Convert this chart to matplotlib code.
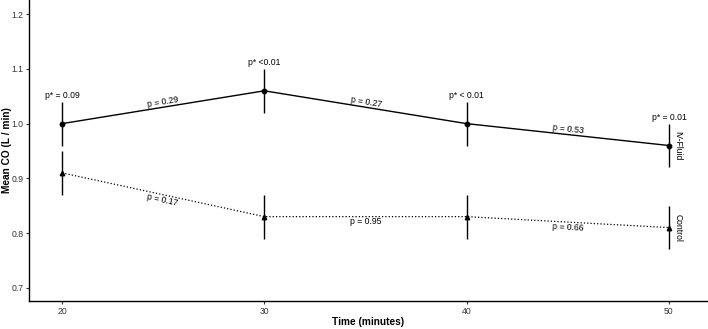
""" Mean CO over time, IV-Fluid vs Control """
import numpy as np
import matplotlib.pyplot as plt

plt.rcParams['font.family'] = ['Liberation Sans', 'DejaVu Sans']

# Data
tid = [20, 30, 40, 50]
iv_fluid = [1.00, 1.06, 1.00, 0.96]
iv_err = [0.04, 0.04, 0.04, 0.04]
control = [0.91, 0.83, 0.83, 0.81]
control_err = [0.04, 0.04, 0.04, 0.04]

# p-verdier
p_star = ['p* = 0.09', 'p* <0.01', 'p* < 0.01', 'p* = 0.01']
p_iv = ['p = 0.29', 'p = 0.27', 'p = 0.53']
p_control = ['p = 0.17', 'p = 0.95', 'p = 0.66']

fig = plt.figure(figsize=(7.08, 3.29), dpi=100)
ax = fig.add_axes([0.041, 0.085, 0.959, 0.915])

ax.errorbar(tid, iv_fluid, yerr=iv_err, color='black', lw=1.0, elinewidth=1.0,
            marker='o', ms=3.2, capsize=0)
ax.errorbar(tid, control, yerr=control_err, color='black', lw=0.9, ls=':',
            elinewidth=1.0, marker='^', ms=3.2, capsize=0)

ax.set_xlim(18.37, 51.93)
ax.set_ylim(0.6757, 1.226)
ax.set_xticks(tid)
ax.set_yticks([0.7, 0.8, 0.9, 1.0, 1.1, 1.2])
ax.tick_params(labelsize=6.2, length=2.5, width=0.8, pad=1.5,
               colors='#333333', labelcolor='#333333')
for s in ['top', 'right']:
    ax.spines[s].set_visible(False)
for s in ['left', 'bottom']:
    ax.spines[s].set_linewidth(1.0)

ax.set_xlabel('Time (minutes)', fontsize=7.3, fontweight='bold')
ax.set_ylabel('Mean CO (L / min)', fontsize=7.3, fontweight='bold')
ax.xaxis.set_label_coords(0.5, -0.052)
ax.yaxis.set_label_coords(-0.0245, 0.5)

# p* over feilstolpene
for x, y, e, txt in zip(tid, iv_fluid, iv_err, p_star):
    ax.annotate(txt, (x, y + e), xytext=(0, 1.5), textcoords='offset points',
                ha='center', va='bottom', fontsize=6.2)

fig.canvas.draw()

def vinkel(x0, y0, x1, y1):
    p0 = ax.transData.transform((x0, y0))
    p1 = ax.transData.transform((x1, y1))
    return np.degrees(np.arctan2(p1[1] - p0[1], p1[0] - p0[0]))

# p mellom punktene
for i, txt in enumerate(p_iv):
    xm = (tid[i] + tid[i + 1]) / 2
    ym = (iv_fluid[i] + iv_fluid[i + 1]) / 2
    a = vinkel(tid[i], iv_fluid[i], tid[i + 1], iv_fluid[i + 1])
    ax.annotate(txt, (xm, ym), xytext=(0, 0.5), textcoords='offset points',
                ha='center', va='bottom', fontsize=6.2, rotation=a,
                rotation_mode='anchor')
for i, txt in enumerate(p_control):
    xm = (tid[i] + tid[i + 1]) / 2
    ym = (control[i] + control[i + 1]) / 2
    a = vinkel(tid[i], control[i], tid[i + 1], control[i + 1])
    ax.annotate(txt, (xm, ym), xytext=(0, -0.5), textcoords='offset points',
                ha='center', va='top', fontsize=6.2, rotation=a,
                rotation_mode='anchor')

# Gruppenavn
ax.text(50.45, iv_fluid[-1], 'IV-Fluid', rotation=-90, ha='center', va='center', fontsize=6.2)
ax.text(50.45, control[-1], 'Control', rotation=-90, ha='center', va='center', fontsize=6.2)

fig.savefig('out.png', dpi=100)
